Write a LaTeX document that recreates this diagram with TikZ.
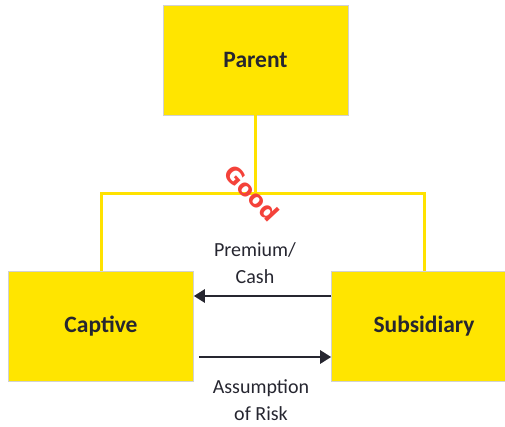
\documentclass[tikz,border=0pt]{standalone}
\usepackage{fontspec}
\setmainfont{Carlito}
\newfontfamily\goodfont{DejaVu Sans}
\usetikzlibrary{arrows.meta}
\definecolor{boxyellow}{HTML}{FFE500}
\definecolor{linkyellow}{HTML}{FFE200}
\definecolor{inkdark}{HTML}{262630}
\definecolor{stampred}{HTML}{F4423A}
\begin{document}
\begin{tikzpicture}[x=1pt,y=1pt,
  entity/.style={draw=black!18, line width=0.6pt, fill=boxyellow, minimum width=185pt,
    minimum height=110pt, inner sep=0pt, text=inkdark, font=\fontsize{23.5}{26}\selectfont\bfseries},
  link/.style={draw=linkyellow, line width=3pt},
  flow/.style={draw=inkdark, line width=2.6pt, -{Triangle[length=11pt,width=13pt]}},
  flowtext/.style={text=inkdark, align=center, font=\fontsize{20}{27}\selectfont}]
  \useasboundingbox (0,0) rectangle (505,426);
  \clip (0,0) rectangle (505,426);

  % three entities
  \node[entity] (parent) at (255.5,366) {Parent};
  \node[entity] (captive) at (101,99.5) {Captive};
  \node[entity] (sub) at (424,99.5) {Subsidiary};

  % ownership bracket
  \coordinate (j) at (255.5,232.5);
  \draw[link] (parent.south) -- (j);
  \draw[link] (captive.north) |- (j) -| (sub.north);

  % flows between subsidiary and captive
  \draw[flow] (sub.west |- 0,130) -- (captive.east |- 0,130);
  \draw[flow] ([xshift=5pt]captive.east |- 0,69) -- (sub.west |- 0,69);

  \node[flowtext] (prem) at (255,163) {Premium/\\Cash};
  \node[flowtext] (risk) at (261,26) {Assumption\\of Risk};

  \node[rotate=-47, text=stampred, font=\goodfont\fontsize{23}{24}\selectfont\bfseries] (good) at (252,233) {Good};
\end{tikzpicture}
\end{document}
